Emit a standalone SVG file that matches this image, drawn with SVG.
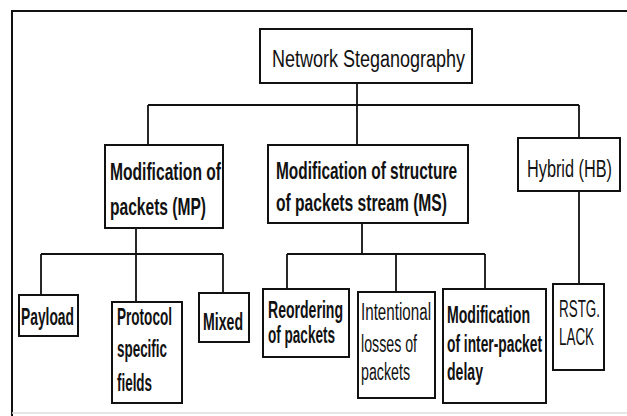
<svg xmlns="http://www.w3.org/2000/svg" width="627" height="416" viewBox="0 0 627 416">
<style>
.box{fill:#fff;stroke:#111;stroke-width:2}
.conn{fill:none;stroke:#111;stroke-width:1.8}
.frame{fill:none;stroke:#111;stroke-width:2}
text{font-family:"Liberation Sans Narrow","Liberation Sans","Arial Narrow",sans-serif;fill:#111;font-size:23px}
.b{font-weight:bold}
.n{font-weight:normal}
</style>
<rect width="627" height="416" fill="#fff"/>
<path class="frame" d="M12 416V11H627"/>
<path d="M12 413H627" stroke="#ddd" stroke-width="1.5" fill="none"/>
<g id="connectors">
<path class="conn" d="M357 83V105M148 105H579M148 105V145M357 105V145M579 105V138"/>
<path class="conn" d="M136 228V254M41 254H223M41 254V295M136 254V302M223 254V293"/>
<path class="conn" d="M362 223V254M287 254H485M287 254V289M396 254V292M485 254V289"/>
<path class="conn" d="M579 191V284"/>
</g>
<g id="root">
<rect class="box" x="260" y="29" width="212" height="54"/>
<text class="n" x="272" y="67" font-size="27" textLength="193" lengthAdjust="spacingAndGlyphs">Network Steganography</text>
</g>
<g id="mp">
<rect class="box" x="105" y="145" width="118" height="83"/>
<text class="b" x="110" y="180" textLength="111" lengthAdjust="spacingAndGlyphs">Modification of</text>
<text class="b" x="110" y="215" textLength="96" lengthAdjust="spacingAndGlyphs">packets (MP)</text>
</g>
<g id="ms">
<rect class="box" x="268" y="145" width="200" height="78"/>
<text class="b" x="276" y="179" textLength="181" lengthAdjust="spacingAndGlyphs">Modification of structure</text>
<text class="b" x="276" y="211" textLength="171" lengthAdjust="spacingAndGlyphs">of packets stream (MS)</text>
</g>
<g id="hb">
<rect class="box" x="518" y="138" width="102" height="53"/>
<text class="n" x="527" y="177" font-size="22" textLength="85" lengthAdjust="spacingAndGlyphs">Hybrid (HB)</text>
</g>
<g id="payload">
<rect class="box" x="19" y="295" width="59" height="41"/>
<text class="b" x="21" y="325" font-size="24" textLength="53" lengthAdjust="spacingAndGlyphs">Payload</text>
</g>
<g id="protocol">
<rect class="box" x="112" y="302" width="70" height="101"/>
<text class="b" x="117" y="325" font-size="24" textLength="55" lengthAdjust="spacingAndGlyphs">Protocol</text>
<text class="b" x="117" y="357" font-size="24" textLength="50" lengthAdjust="spacingAndGlyphs">specific</text>
<text class="b" x="117" y="391" font-size="24" textLength="35" lengthAdjust="spacingAndGlyphs">fields</text>
</g>
<g id="mixed">
<rect class="box" x="199" y="293" width="50" height="49"/>
<text class="b" x="203" y="330" textLength="40" lengthAdjust="spacingAndGlyphs">Mixed</text>
</g>
<g id="reordering">
<rect class="box" x="263" y="289" width="86" height="68"/>
<text class="b" x="268" y="318" font-size="22" textLength="75" lengthAdjust="spacingAndGlyphs">Reordering</text>
<text class="b" x="268" y="343" font-size="22" textLength="67" lengthAdjust="spacingAndGlyphs">of packets</text>
</g>
<g id="losses">
<rect class="box" x="358" y="292" width="77" height="106"/>
<text class="n" x="361" y="320" font-size="23" textLength="70" lengthAdjust="spacingAndGlyphs">Intentional</text>
<text class="n" x="361" y="352" font-size="23" textLength="56" lengthAdjust="spacingAndGlyphs">losses of</text>
<text class="n" x="361" y="380" font-size="23" textLength="49" lengthAdjust="spacingAndGlyphs">packets</text>
</g>
<g id="delay">
<rect class="box" x="443" y="289" width="103" height="114"/>
<text class="b" x="447" y="323" font-size="23" textLength="83" lengthAdjust="spacingAndGlyphs">Modification</text>
<text class="b" x="447" y="352" font-size="23" textLength="95" lengthAdjust="spacingAndGlyphs">of inter-packet</text>
<text class="b" x="447" y="380" font-size="23" textLength="36" lengthAdjust="spacingAndGlyphs">delay</text>
</g>
<g id="rstg">
<rect class="box" x="553" y="284" width="51" height="86"/>
<text class="n" x="559" y="317" font-size="23" textLength="41" lengthAdjust="spacingAndGlyphs">RSTG.</text>
<text class="n" x="559" y="345" font-size="23" textLength="35" lengthAdjust="spacingAndGlyphs">LACK</text>
</g>
</svg>
